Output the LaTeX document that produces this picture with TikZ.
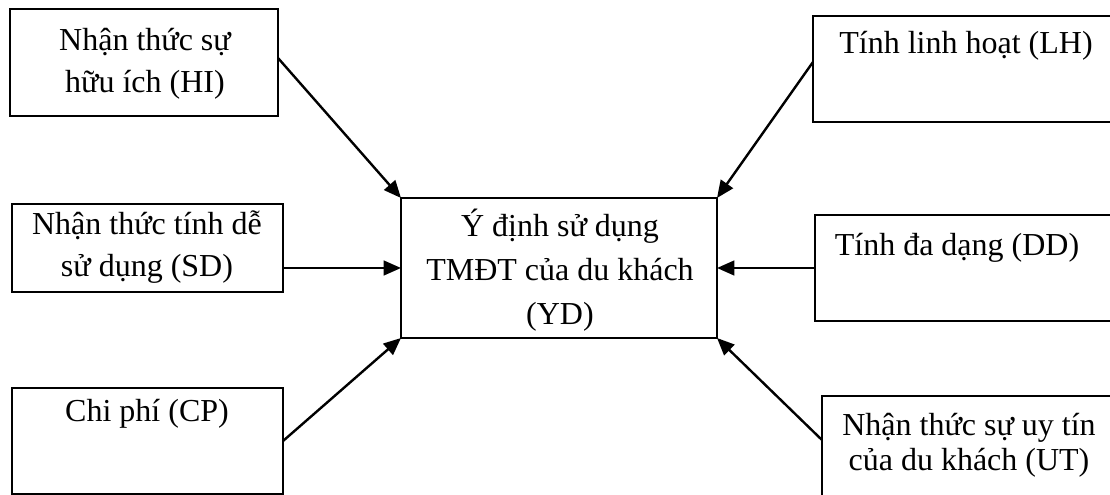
\documentclass[tikz,border=0pt]{standalone}
\usepackage{fontspec}
\setmainfont{Liberation Serif}
\usetikzlibrary{arrows.meta,calc,fit}
\begin{document}
\begin{tikzpicture}[x=0.75pt,y=-0.75pt,
  box/.style={draw,line width=1.4pt,inner sep=0pt,outer sep=0pt},
  lbl/.style={align=center,inner sep=0pt},
  fs/.style={font=\fontsize{24}{#1}\selectfont},
  link/.style={line width=1.8pt,-{Triangle[length=13pt,width=11pt]}}]
\useasboundingbox (0,0) rectangle (1110,495);
\clip (0,0) rectangle (1110,495);

% factor boxes, left column
\node[box,fit={(10,9) (278,116)}] (hi) {};
\node[box,fit={(12,204) (283,292)}] (sd) {};
\node[box,fit={(12,388) (283,494)}] (cp) {};
% factor boxes, right column
\node[box,fit={(813,16) (1125,122)}] (lh) {};
\node[box,fit={(815,215) (1125,321)}] (dd) {};
\node[box,fit={(822,396) (1125,510)}] (ut) {};
% dependent variable
\node[box,fit={(401,198) (717,338)}] (yd) {};

% labels
\node[lbl,fs=31.5] (hit) at (145,64) {Nhận thức sự\\hữu ích (HI)};
\node[lbl,fs=31.5] (sdt) at (147,247) {Nhận thức tính dễ\\sử dụng (SD)};
\node[lbl,fs=31.5] (cpt) at (147,414) {Chi phí (CP)};
\node[lbl,fs=31.5] (lht) at (966,46) {Tính linh hoạt (LH)};
\node[lbl,fs=31.5] (ddt) at (957,248) {Tính đa dạng (DD)};
\node[lbl,fs=26.25] (utt) at (969,445) {Nhận thức sự uy tín\\của du khách (UT)};
\node[lbl,fs=33] (ydt) at (560,270) {Ý định sử dụng\\TMĐT của du khách\\(YD)};

% influences on the intention
\draw[link] ($(hi.north east)!0.458!(hi.south east)$) -- (yd.north west);
\draw[link] (sd.east |- yd.west) -- (yd.west);
\draw[link] (cp.east) -- (yd.south west);
\draw[link] ($(lh.north west)!0.434!(lh.south west)$) -- (yd.north east);
\draw[link] (dd.west |- yd.east) -- (yd.east);
\draw[link] ($(ut.north west)!0.386!(ut.south west)$) -- (yd.south east);
\end{tikzpicture}
\end{document}
